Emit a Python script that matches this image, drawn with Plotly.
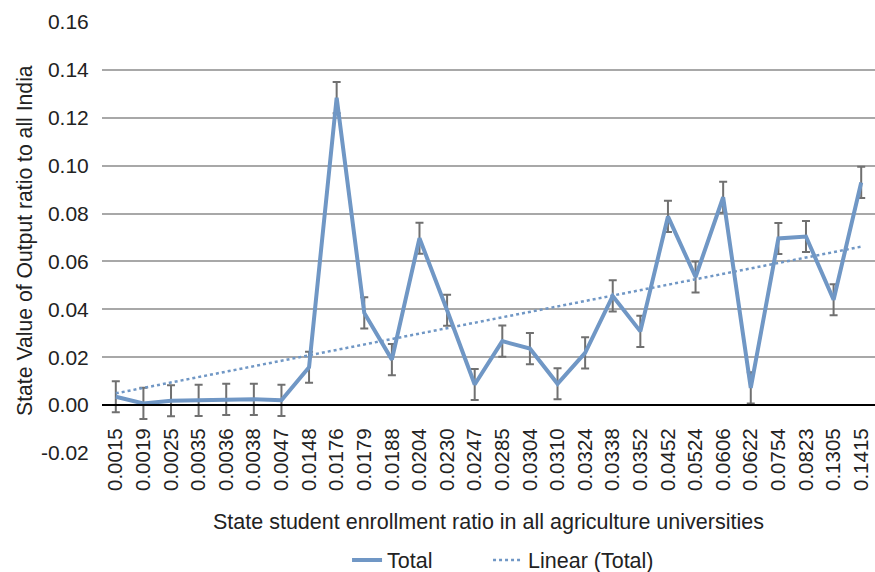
import numpy as np
import plotly.graph_objects as go

categories = ["0.0015", "0.0019", "0.0025", "0.0035", "0.0036", "0.0038", "0.0047",
              "0.0148", "0.0176", "0.0179", "0.0188", "0.0204", "0.0230", "0.0247",
              "0.0285", "0.0304", "0.0310", "0.0324", "0.0338", "0.0352", "0.0452",
              "0.0524", "0.0606", "0.0622", "0.0754", "0.0823", "0.1305", "0.1415"]
total = [0.0035, 0.0007, 0.0018, 0.0020, 0.0024, 0.0024, 0.0020,
         0.0158, 0.1284, 0.0385, 0.0190, 0.0697, 0.0396, 0.0086,
         0.0267, 0.0236, 0.0089, 0.0218, 0.0456, 0.0308, 0.0788,
         0.0535, 0.0868, 0.0072, 0.0696, 0.0704, 0.0440, 0.0930]
err = 0.0065
y_ticks = [-0.02, 0.0, 0.02, 0.04, 0.06, 0.08, 0.10, 0.12, 0.14, 0.16]

idx = np.arange(1, len(total) + 1)
slope, intercept = np.polyfit(idx, total, 1)
trend = slope * idx + intercept

BLUE = "#7097c5"
FONT = "Liberation Sans, Arial, sans-serif"
TXT = "#222222"

fig = go.Figure()
fig.add_trace(go.Scatter(
    x=list(range(len(categories))), y=total, mode="lines", name="Total",
    line=dict(color=BLUE, width=4),
    error_y=dict(type="constant", value=err, color="#707070", thickness=2, width=4),
    legend="legend",
))
fig.add_trace(go.Scatter(
    x=list(range(len(categories))), y=trend, mode="lines", name="Linear (Total)",
    line=dict(color=BLUE, width=2.5, dash="dot"),
    legend="legend2",
))

leg_common = dict(orientation="h", xanchor="left", yref="container", y=0.021,
                  yanchor="middle", font=dict(size=21.5, color=TXT),
                  bgcolor="rgba(0,0,0,0)")

fig.update_layout(
    width=875, height=572,
    margin=dict(l=102, r=0, t=22, b=119, autoexpand=False),
    paper_bgcolor="white", plot_bgcolor="white",
    font=dict(family=FONT, size=21, color=TXT),
    showlegend=True,
    legend=dict(x=0.317, **leg_common),
    legend2=dict(x=0.4994, **leg_common),
    xaxis=dict(
        range=[-0.5, len(categories) - 0.5],
        tickmode="array", tickvals=list(range(len(categories))), ticktext=categories,
        tickangle=-90, showgrid=False, zeroline=False,
        showline=True, linecolor="black", linewidth=2,
        anchor="free", position=0.02 / 0.18, automargin=False,
        ticks="outside", ticklen=14, tickcolor="rgba(0,0,0,0)",
        tickfont=dict(size=20.5, color=TXT),
    ),
    yaxis=dict(
        range=[-0.02, 0.16], tickmode="array", tickvals=y_ticks,
        ticktext=[f"{v:.2f}" for v in y_ticks],
        showgrid=True, gridcolor="#a8a8a8", gridwidth=1.5, zeroline=False,
        showline=False, ticks="outside", ticklen=8, tickcolor="rgba(0,0,0,0)",
        tickfont=dict(size=21, color=TXT), automargin=False,
    ),
    annotations=[
        dict(text="State student enrollment ratio in all agriculture universities",
             xref="paper", yref="paper", x=0.5, y=-0.16, xanchor="center", yanchor="middle",
             showarrow=False, font=dict(size=21.5, color=TXT)),
        dict(text="State Value of Output ratio to all India",
             xref="paper", yref="paper", x=-0.0996, y=0.492, xanchor="center", yanchor="middle",
             textangle=-90, showarrow=False, font=dict(size=21.2, color=TXT)),
    ],
)

fig.write_html("out.html")
